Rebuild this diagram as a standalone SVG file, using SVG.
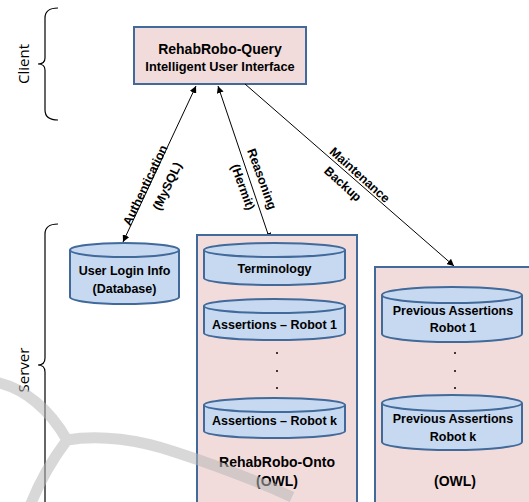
<svg xmlns="http://www.w3.org/2000/svg" width="529" height="502" viewBox="0 0 529 502">
<style>
.bg{fill:#ffffff}
.box{fill:#f2dcdb;stroke:#41699a;stroke-width:2}
.cyl{fill:#c6d9f1;stroke:#41699a;stroke-width:2}
.t{font-family:"Liberation Sans",Arial,sans-serif;font-weight:bold;fill:#000;text-anchor:middle;font-size:12.5px}
.lbl{font-family:"Liberation Sans",Arial,sans-serif;font-weight:bold;font-size:12.5px;fill:#000;text-anchor:middle}
.side{font-family:"Open Sans","Liberation Sans",sans-serif;font-size:15px;fill:#000;text-anchor:middle}
.brace{fill:none;stroke:#000;stroke-width:1.2}
.conn{stroke:#000;stroke-width:1;fill:none}
.wm{fill:none;stroke:#b8b8b8;stroke-width:11;stroke-linecap:butt;stroke-linejoin:round}
</style>
<defs>
<marker id="ah" viewBox="0 0 10 10" refX="10" refY="5" markerWidth="7" markerHeight="7" orient="auto-start-reverse" markerUnits="userSpaceOnUse">
<path d="M0,0 L10,5 L0,10 Z" fill="#000"/>
</marker>
</defs>
<rect class="bg" x="0" y="0" width="529" height="502"/>
<g id="client-brace">
<path class="brace" d="M58,8 Q45,8 45,18 V58 Q45,64 38,64 Q45,64 45,70 V110 Q45,120 58,120"/>
<text class="side" transform="translate(29,64) rotate(-90)">Client</text>
</g>
<g id="server-brace">
<path class="brace" d="M58,224 Q45,224 45,234 V358 Q45,365 38,365 Q45,365 45,372 V510"/>
<text class="side" transform="translate(29,370) rotate(-90)">Server</text>
</g>
<g id="query">
<rect class="box" x="134" y="27" width="172" height="57"/>
<text class="t" x="220" y="54" style="font-size:14px">RehabRobo-Query</text>
<text class="t" x="220" y="71" style="font-size:12.8px">Intelligent User Interface</text>
</g>
<g id="connectors">
<line class="conn" x1="196" y1="86" x2="123" y2="242" marker-start="url(#ah)" marker-end="url(#ah)"/>
<line class="conn" x1="218" y1="86" x2="270" y2="240" marker-start="url(#ah)" marker-end="url(#ah)"/>
<line class="conn" x1="245" y1="84" x2="454" y2="266" marker-end="url(#ah)"/>
<text class="lbl" transform="translate(149,187) rotate(-64.5)">Authentication</text>
<text class="lbl" transform="translate(171,188) rotate(-64.5)">(MySQL)</text>
<text class="lbl" transform="translate(258,180.5) rotate(70)">Reasoning</text>
<text class="lbl" transform="translate(239,188.5) rotate(70)">(Hermit)</text>
<text class="lbl" transform="translate(357,178) rotate(42)">Maintenance</text>
<text class="lbl" transform="translate(340,187) rotate(42)">Backup</text>
</g>
<g id="userlogin">
<path class="cyl" d="M70,250 A54.5,7 0 0 1 179,250 V297 A54.5,7 0 0 1 70,297 Z"/>
<path class="cyl" d="M70,250 A54.5,7 0 0 0 179,250"/>
<text class="t" x="124.5" y="275">User Login Info</text>
<text class="t" x="124.5" y="293">(Database)</text>
</g>
<g id="onto">
<rect class="box" x="197" y="235" width="160" height="270"/>
<text class="t" x="277" y="467" style="font-size:14px">RehabRobo-Onto</text>
<text class="t" x="277" y="486" style="font-size:14px">(OWL)</text>
<g id="terminology">
<path class="cyl" d="M204,250 A70.5,7 0 0 1 345,250 V278 A70.5,7 0 0 1 204,278 Z"/>
<path class="cyl" d="M204,250 A70.5,7 0 0 0 345,250"/>
<text class="t" x="274.5" y="273">Terminology</text>
</g>
<g id="assert1">
<path class="cyl" d="M204,306 A70.5,7 0 0 1 345,306 V333 A70.5,7 0 0 1 204,333 Z"/>
<path class="cyl" d="M204,306 A70.5,7 0 0 0 345,306"/>
<text class="t" x="274.5" y="329">Assertions – Robot 1</text>
</g>
<g id="dots1">
<circle cx="277" cy="353" r="1" fill="#000"/>
<circle cx="277" cy="371" r="1" fill="#000"/>
<circle cx="277" cy="388" r="1" fill="#000"/>
</g>
<g id="assertk">
<path class="cyl" d="M204,405 A70.5,7 0 0 1 345,405 V431 A70.5,7 0 0 1 204,431 Z"/>
<path class="cyl" d="M204,405 A70.5,7 0 0 0 345,405"/>
<text class="t" x="274.5" y="425">Assertions – Robot k</text>
</g>
</g>
<g id="backup">
<rect class="box" x="375" y="267" width="160" height="240"/>
<text class="t" x="455" y="486" style="font-size:14px">(OWL)</text>
<g id="prev1">
<path class="cyl" d="M382,295 A70,8 0 0 1 522,295 V334 A70,8 0 0 1 382,334 Z"/>
<path class="cyl" d="M382,295 A70,8 0 0 0 522,295"/>
<text class="t" x="453" y="315">Previous Assertions</text>
<text class="t" x="453" y="332">Robot 1</text>
</g>
<g id="dots2">
<circle cx="455" cy="353" r="1" fill="#000"/>
<circle cx="455" cy="371" r="1" fill="#000"/>
<circle cx="455" cy="388" r="1" fill="#000"/>
</g>
<g id="prevk">
<path class="cyl" d="M382,403 A70,8 0 0 1 522,403 V442 A70,8 0 0 1 382,442 Z"/>
<path class="cyl" d="M382,403 A70,8 0 0 0 522,403"/>
<text class="t" x="453" y="423">Previous Assertions</text>
<text class="t" x="453" y="441">Robot k</text>
</g>
</g>
<g id="watermark" opacity="0.55">
<path class="wm" d="M-5,382 C25,388 50,410 67,440 C100,434 140,440 175,452 C215,465 255,480 292,497 M67,440 C52,460 40,480 30,506"/>
</g>
</svg>
